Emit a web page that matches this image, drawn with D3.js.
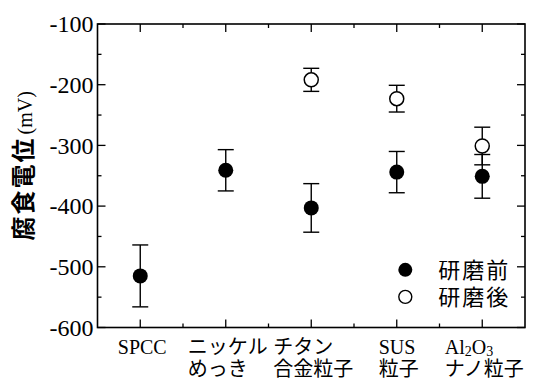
<!DOCTYPE html>
<html><head><meta charset="utf-8">
<script src="https://cdn.jsdelivr.net/npm/d3@7"></script>
<style>
body{margin:0;background:#fff;}
svg{display:block;}
</style></head>
<body><svg id="c" width="539" height="381"></svg>
<script>
const categories = ["SPCC","ニッケルめっき","チタン合金粒子","SUS粒子","Al2O3ナノ粒子"];
const labelLine1 = ["SPCC","ニッケル","チタン","SUS","Al2O3"];
const labelLine2 = ["","めっき","合金粒子","粒子","ナノ粒子"];
const beforeMean = [-515,-341,-403,-344,-351];
const beforeErr  = [51,34,40,34,36];
const afterMean  = [null,null,-192,-223,-301];
const afterErr   = [null,null,19,22,31];
const yTicks = [-100,-200,-300,-400,-500,-600];
const yMinorTicks = [-150,-250,-350,-450,-550];
const seriesNames = ["研磨前","研磨後"];
const yTitle = "腐食電位";
const yUnit = "(mV)";

const SERIF = '"Liberation Serif","Times New Roman",serif';
const JP = '"Noto Sans CJK JP","Noto Sans",sans-serif';

const svg = d3.select("#c");
const L = 97.5, R = 525, T = 24, B = 327.5;
const x = d3.scaleLinear().domain([0, categories.length]).range([L, R]);
const y = d3.scaleLinear().domain([-600, -100]).range([B, T]);
const cx = i => x(i + 0.5);

const g = svg.append("g");
g.append("rect").attr("x", L).attr("y", T).attr("width", R - L).attr("height", B - T)
  .attr("fill", "none").attr("stroke", "#000").attr("stroke-width", 1.6);

const majorLen = 8, minorLen = 4;
const tick = (x1, y1, x2, y2) => g.append("line").attr("x1", x1).attr("y1", y1).attr("x2", x2).attr("y2", y2).attr("stroke", "#000").attr("stroke-width", 1.3);
yTicks.forEach(v => {
  tick(L, y(v), L + majorLen, y(v));
  tick(R, y(v), R - majorLen, y(v));
  g.append("text").style("font-family", SERIF).attr("x", L - 4).attr("y", y(v)).attr("dy", "0.34em")
    .attr("text-anchor", "end").attr("font-size", 24).text(v);
});
yMinorTicks.forEach(v => {
  tick(L, y(v), L + minorLen, y(v));
  tick(R, y(v), R - minorLen, y(v));
});
categories.forEach((c, i) => {
  tick(cx(i), B, cx(i), B - majorLen);
  tick(cx(i), T, cx(i), T + majorLen);
});
d3.range(1, categories.length).forEach(i => {
  tick(x(i), B, x(i), B - minorLen);
  tick(x(i), T, x(i), T + minorLen);
});

// category labels
const isAscii = s => /^[\x00-\x7F]*$/.test(s);
categories.forEach((c, i) => {
  const grp = g.append("g");
  const lines = [labelLine1[i], labelLine2[i]].filter(s => s);
  const texts = lines.map((s, k) => {
    const t = grp.append("text").attr("y", 354 + k * 22)
      .style("font-family", isAscii(s) ? SERIF : JP)
      .attr("font-size", 20);
    if (s === "Al2O3") {
      t.append("tspan").text("Al");
      t.append("tspan").attr("font-size", 14).attr("dy", 2).text("2");
      t.append("tspan").attr("dy", -2).text("O");
      t.append("tspan").attr("font-size", 14).attr("dy", 2).text("3");
    } else t.text(s);
    return t;
  });
  const w = d3.max(texts, t => t.node().getComputedTextLength());
  texts.forEach(t => t.attr("x", cx(i) - w / 2 + 2));
});

// y title
const yt = g.append("text").attr("transform", `translate(32,${(T + B) / 2 - 10}) rotate(-90)`)
  .attr("text-anchor", "middle");
yt.append("tspan").style("font-family", JP).attr("font-weight", "bold").attr("font-size", 24).attr("letter-spacing", 2).text(yTitle);
yt.append("tspan").style("font-family", SERIF).attr("font-size", 20).attr("dx", 2).text(yUnit);

// error bars + points
const capW = 8;
function drawErr(mean, err) {
  mean.forEach((m, i) => {
    if (m == null) return;
    const e = err[i];
    tick(cx(i), y(m - e), cx(i), y(m + e)).attr("stroke-width", 1.4);
    [m - e, m + e].forEach(v => tick(cx(i) - capW, y(v), cx(i) + capW, y(v)).attr("stroke-width", 1.4));
  });
}
function drawPoints(mean, filled) {
  mean.forEach((m, i) => {
    if (m == null) return;
    g.append("circle").attr("cx", cx(i)).attr("cy", y(m)).attr("r", filled ? 7.5 : 7)
      .attr("fill", filled ? "#000" : "#fff").attr("stroke", "#000").attr("stroke-width", filled ? 0 : 1.5);
  });
}
drawErr(afterMean, afterErr);
drawErr(beforeMean, beforeErr);
drawPoints(afterMean, false);
drawPoints(beforeMean, true);

// legend
const lx = x(3.6), ly = y(-505);
seriesNames.forEach((s, k) => {
  const yy = ly + k * 27;
  g.append("circle").attr("cx", lx).attr("cy", yy).attr("r", k === 0 ? 7 : 6.5)
    .attr("fill", k === 0 ? "#000" : "#fff").attr("stroke", "#000").attr("stroke-width", k === 0 ? 0 : 1.4);
  g.append("text").style("font-family", JP).attr("x", lx + 33).attr("y", yy).attr("dy", "0.36em")
    .attr("font-size", 22).attr("letter-spacing", 2).text(s);
});
</script></body></html>
